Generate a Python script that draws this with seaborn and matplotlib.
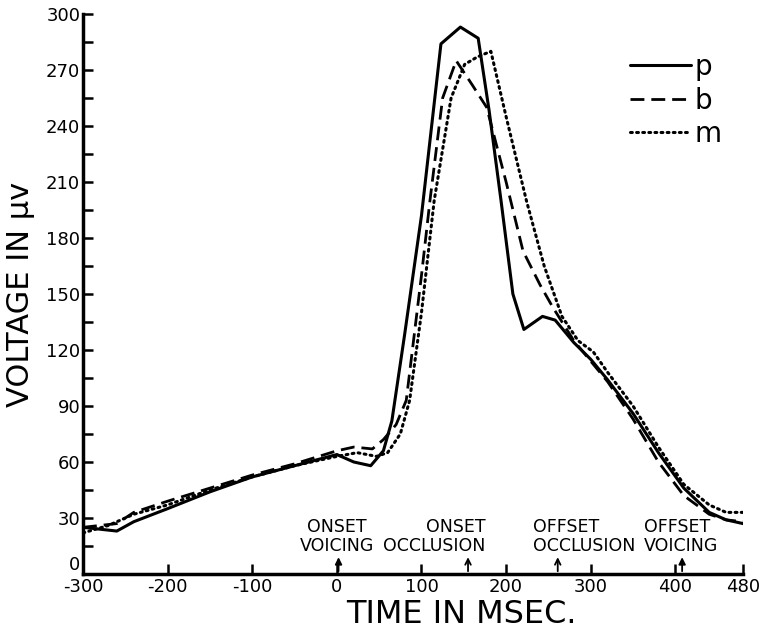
import matplotlib
matplotlib.use('Agg')
import matplotlib.pyplot as plt
import seaborn as sns
import pandas as pd

# values (time in msec, voltage in microvolts)
p_time = [-300, -260, -240, -200, -150, -100, -50, 0, 20, 40, 55, 65, 80, 100, 123, 146, 167, 180, 194, 208, 221, 243, 258, 280, 300, 320, 350, 380, 410, 440, 460, 480]
p_volt = [25, 23, 28, 35, 44, 52, 58, 64, 60, 58, 66, 82, 128, 192, 284, 293, 287, 248, 200, 150, 131, 138, 136, 124, 115, 104, 86, 65, 46, 33, 29, 27]

b_time = [-300, -260, -240, -200, -150, -100, -50, 0, 20, 42, 55, 70, 82, 100, 110, 125, 141, 160, 177, 200, 220, 240, 255, 280, 300, 320, 350, 380, 410, 440, 460, 480]
b_volt = [25, 27, 33, 39, 46, 53, 59, 66, 68, 67, 72, 80, 93, 160, 200, 255, 275, 262, 250, 210, 173, 155, 143, 125, 114, 103, 83, 60, 42, 32, 29, 28]

m_time = [-300, -270, -240, -200, -150, -100, -50, 0, 24, 47, 60, 75, 86, 100, 115, 135, 151, 166, 182, 200, 224, 245, 266, 285, 303, 320, 350, 380, 410, 440, 460, 480]
m_volt = [22, 26, 32, 37, 45, 52, 58, 63, 65, 63, 65, 75, 93, 140, 200, 255, 273, 277, 280, 245, 200, 165, 138, 125, 119, 108, 90, 68, 48, 37, 33, 33]

events = ['ONSET\nVOICING', 'ONSET\nOCCLUSION', 'OFFSET\nOCCLUSION', 'OFFSET\nVOICING']
event_time = [2, 155, 261, 408]
event_text_x = [0, 115, 292, 407]
event_align = ['center', 'right', 'left', 'left']
event_head = ['-|>', '->', '->', '-|>']

x_ticks = [-300, -200, -100, 0, 100, 200, 300, 400, 480]

sns.set_style('ticks')
plt.rcParams['font.family'] = ['DejaVu Sans']
plt.rcParams['text.color'] = 'black'
plt.rcParams['axes.labelcolor'] = 'black'

fig = plt.figure(figsize=(7.64, 6.36), dpi=100)
ax = fig.add_axes([0.1086, 0.0975, 0.864, 0.8805])

df_p = pd.DataFrame({'t': p_time, 'v': p_volt})
df_b = pd.DataFrame({'t': b_time, 'v': b_volt})
df_m = pd.DataFrame({'t': m_time, 'v': m_volt})

sns.lineplot(data=df_p, x='t', y='v', ax=ax, color='black', lw=2.2, label='p', estimator=None)
sns.lineplot(data=df_b, x='t', y='v', ax=ax, color='black', lw=2.0, label='b', estimator=None,
             linestyle=(0, (5, 2.5)))
sns.lineplot(data=df_m, x='t', y='v', ax=ax, color='black', lw=2.2, label='m', estimator=None,
             linestyle=(0, (0.6, 1.4)), dash_capstyle='round')

ax.set_xlim(-300, 480)
ax.set_ylim(0, 300)
ax.set_xticks(x_ticks)
ax.set_xticklabels([str(t) for t in x_ticks])
ax.set_yticks(range(0, 301, 30))
ax.set_yticks(range(15, 300, 30), minor=True)
ax.tick_params(axis='both', which='both', direction='in', length=7, width=1.8, labelsize=13,
               colors='black')
ax.tick_params(axis='y', pad=2)
ax.tick_params(axis='x', pad=3)
ax.get_yticklabels()[0].set_va('bottom')   # keep the corner "0" above "-300"
for s in ['top', 'right']:
    ax.spines[s].set_visible(False)
for s in ['left', 'bottom']:
    ax.spines[s].set_linewidth(2.5)
    ax.spines[s].set_color('black')

ax.set_xlabel('TIME IN MSEC.', fontsize=23, labelpad=1)
ax.xaxis.set_label_coords(0.574, -0.045, transform=ax.transAxes)
ax.xaxis.label.set_va('top')
ax.set_ylabel('VOLTAGE IN μv', fontsize=22, labelpad=8)

# event markers under the curves
for lab, t, tx, al, hd in zip(events, event_time, event_text_x, event_align, event_head):
    ax.text(tx, 20, lab, ha='center', va='center', multialignment=al, fontsize=12.5, linespacing=1.05)
    ax.annotate('', xy=(t, 10.5), xytext=(t, 0),
                arrowprops=dict(arrowstyle=hd, color='black', lw=1.3, mutation_scale=10))

leg = ax.legend(loc='upper right', bbox_to_anchor=(0.985, 0.95), frameon=False, fontsize=20,
                handlelength=2.2, handletextpad=0.15, labelspacing=0.2, borderaxespad=0)

fig.savefig('out.png', dpi=100)
